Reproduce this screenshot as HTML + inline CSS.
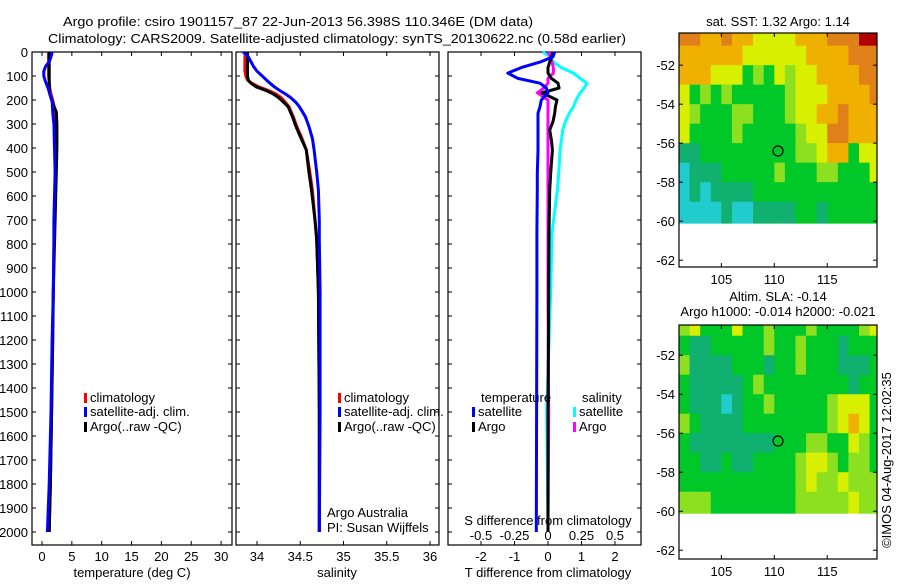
<!DOCTYPE html>
<html><head><meta charset="utf-8"><style>
body{margin:0;background:#fff;width:900px;height:580px;overflow:hidden}
svg text{font-family:"Liberation Sans",sans-serif;font-size:13px;fill:#000}
</style></head><body>
<svg id="s" width="900" height="580" xmlns="http://www.w3.org/2000/svg"></svg>
<script>
// ---- data ----
const tDepth=[0,20,40,60,80,100,125,150,175,200,250,300,400,500,600,700,800,1000,1200,1500,1800,2000];
const tArgo=[1.2,1.2,1.2,1.2,1.2,1.2,1.2,1.2,1.3,1.6,2.4,2.5,2.5,2.4,2.3,2.2,2.1,1.9,1.8,1.6,1.4,1.2];
const tClim=[1.1,1.1,1.1,1.1,1.1,1.1,1.2,1.3,1.5,1.8,2.2,2.3,2.3,2.3,2.2,2.1,2.0,1.9,1.8,1.6,1.4,1.2];
const tSat=[1.7,1.5,1.2,0.6,0.3,0.3,0.6,1.0,1.3,1.7,1.8,2.0,2.1,2.2,2.1,2.0,2.0,1.9,1.7,1.5,1.2,0.9];
const sDepth=[0,20,40,60,80,100,117,130,145,160,175,190,210,228,270,310,360,408,500,575,700,783,1000,1500,2000];
const sArgo=[33.89,33.89,33.89,33.89,33.89,33.89,33.90,33.93,33.99,34.10,34.19,34.25,34.31,34.36,34.41,34.45,34.51,34.57,34.60,34.63,34.67,34.69,34.71,34.72,34.72];
const sClim=[33.87,33.86,33.86,33.86,33.86,33.87,33.89,33.94,34.02,34.13,34.22,34.28,34.33,34.37,34.42,34.46,34.52,34.57,34.61,34.64,34.67,34.69,34.71,34.72,34.72];
const sSat=[33.84,33.90,33.93,33.96,34.00,34.06,34.11,34.15,34.20,34.26,34.33,34.39,34.45,34.49,34.56,34.60,34.64,34.66,34.69,34.71,34.72,34.72,34.73,34.73,34.72];
const dDepth=[0,20,42,65,88,110,130,150,170,200,228,255,290,325,367,408,505,575,754,1000,1500,2000];
const dTSat=[0.2,0.15,-0.24,-0.8,-1.2,-0.9,-0.24,-0.05,0.0,-0.2,-0.24,-0.3,-0.3,-0.3,-0.3,-0.3,-0.32,-0.32,-0.33,-0.33,-0.34,-0.35];
const dTArgo=[0.15,0.1,0.05,0.0,0.0,0.1,0.3,0.33,-0.18,0.27,0.22,0.2,0.15,0.05,0.1,0.13,0.08,0.05,0.03,0.02,0.0,0.0];
const dSSat=[-0.04,0.02,0.04,0.1,0.19,0.24,0.29,0.27,0.24,0.21,0.19,0.16,0.13,0.11,0.1,0.09,0.08,0.07,0.03,0.02,-0.01,0.0];
const dSArgo=[0.0,0.02,0.03,0.04,0.04,0.0,0.0,-0.03,-0.08,0.0,0.0,0.0,0.0,0.0,0.0,0.0,0.0,0.0,0.0,0.0,0.005,0.0];
const depthTicks=[0,100,200,300,400,500,600,700,800,900,1000,1100,1200,1300,1400,1500,1600,1700,1800,1900,2000];
const tempTicks=[0,5,10,15,20,25,30];
const salTicks=[34,34.5,35,35.5,36];
const tdTicks=[-2,-1,0,1,2];
const sdTicks=[-0.5,-0.25,0,0.25,0.5];
const latTicks=[-52,-54,-56,-58,-60,-62];
const lonTicks=[105,110,115];
const sstGrid=[
[8,8,7,7,8,7,7,6,6,6,6,7,7,7,8,8,8,9,9],
[7,7,7,7,7,7,6,6,6,6,6,6,7,7,7,7,8,8,8],
[7,7,7,6,6,6,4,5,4,6,5,6,6,7,7,7,7,8,8],
[6,4,5,4,5,4,4,4,4,4,5,6,6,6,7,7,7,7,8],
[6,5,4,4,4,5,5,4,4,4,5,6,6,7,7,8,7,7,7],
[6,4,4,4,4,5,4,4,4,4,4,5,6,6,8,8,7,7,7],
[3,3,4,4,4,4,4,4,4,4,4,5,5,6,7,7,4,6,6],
[2,3,3,3,4,4,4,4,4,5,4,4,4,5,5,4,4,4,6],
[2,3,2,3,3,3,3,4,4,4,4,4,4,4,4,4,4,4,4],
[2,2,2,2,3,2,2,3,3,3,3,4,4,3,4,4,4,4,4]];
const slaGrid=[
[5,6,4,4,4,6,4,4,5,4,4,4,5,4,4,4,4,5,6],
[4,3,3,4,4,4,4,4,5,4,4,5,4,4,4,3,4,4,4],
[5,3,3,3,3,4,4,4,3,4,4,5,4,4,4,3,3,3,4],
[4,3,3,3,3,3,4,5,4,4,4,4,4,4,4,4,3,4,4],
[4,3,3,3,2,3,4,4,5,4,4,4,4,4,5,6,6,6,4],
[5,4,3,3,3,3,4,4,4,4,4,4,4,4,5,6,7,6,4],
[4,3,3,3,3,3,3,3,3,4,4,4,5,5,4,4,6,5,4],
[4,4,3,3,4,3,3,4,4,4,4,5,6,6,5,4,5,5,4],
[4,4,4,4,4,4,4,4,4,4,4,5,6,5,5,6,5,5,5],
[5,5,5,4,4,4,4,4,4,4,4,5,5,5,5,5,6,5,5]];
const floatLon=110.35, floatLat=-56.4;
// ---- helpers ----
const S=document.getElementById('s'),NS='http://www.w3.org/2000/svg';
function el(t,a,p){const e=document.createElementNS(NS,t);for(const k in a)e.setAttribute(k,a[k]);(p||S).appendChild(e);return e;}
function txt(x,y,s,anchor,name,extra){const e=el('text',Object.assign({x:x,y:y,'text-anchor':anchor||'start'},extra||{}));e.textContent=s;


return e;}
const Y0=52,Y1=545;
const yD=d=>Y0+d*0.24;
function frame(x0,x1,y0,y1,name){const r=el('rect',{x:x0,y:y0,width:x1-x0,height:y1-y0,fill:'none',stroke:'#000','stroke-width':1.2});

}
function depthAxis(x0,x1,labels){
 depthTicks.forEach(d=>{const y=yD(d);el('line',{x1:x0,x2:x0+4,y1:y,y2:y,stroke:'#000'});el('line',{x1:x1-4,x2:x1,y1:y,y2:y,stroke:'#000'});
 if(labels)txt(28,y+5,String(d),'end','depth-tick-label');});}
function xTicks(ticks,f,x0,x1,yl,fmt,name){ticks.forEach(v=>{const x=f(v);el('line',{x1:x,x2:x,y1:Y0,y2:Y0+4,stroke:'#000'});el('line',{x1:x,x2:x,y1:Y1-4,y2:Y1,stroke:'#000'});
 if(yl)txt(x,yl,fmt?fmt(v):String(v),'middle',name);});}
function line(xs,ds,fx,col,name){const pts=xs.map((v,i)=>fx(v).toFixed(1)+','+yD(ds[i]).toFixed(1)).join(' ');
 const p=el('polyline',{points:pts,fill:'none',stroke:col,'stroke-width':3,'stroke-linejoin':'round'});
 
 }
function legend(x,y,col,label,name){el('rect',{x:x,y:y-9,width:3,height:10,fill:col});txt(x+6,y,label,'start',name);}
// titles
txt(298,26,'Argo profile: csiro 1901157_87 22-Jun-2013 56.398S 110.346E (DM data)','middle','title-line-1',{'font-size':'14',textLength:'470',lengthAdjust:'spacingAndGlyphs'});
txt(337,43,'Climatology: CARS2009. Satellite-adjusted climatology: synTS_20130622.nc (0.58d earlier)','middle','title-line-2',{'font-size':'14',textLength:'578',lengthAdjust:'spacingAndGlyphs'});
// panel 1 temperature
const fxT=v=>42+v*5.97;
frame(32,232,Y0,Y1,'temperature-panel');depthAxis(32,232,true);xTicks(tempTicks,fxT,32,232,561,null,'temperature-tick-label');
txt(132,577,'temperature (deg C)','middle','temperature-axis-title');
line(tClim,tDepth,fxT,'#f00','temp-climatology-line');
line(tArgo,tDepth,fxT,'#000','temp-argo-line');
line(tSat,tDepth,fxT,'#00f','temp-satellite-line');
legend(84,402,'#f00','climatology','legend-climatology');
legend(84,416,'#00f','satellite-adj. clim.','legend-satellite');
legend(84,431,'#000','Argo(..raw -QC)','legend-argo');
// panel 2 salinity
const fxS=v=>257+(v-34)*86.5;
frame(236,439,Y0,Y1,'salinity-panel');depthAxis(236,439,false);xTicks(salTicks,fxS,236,439,561,null,'salinity-tick-label');
txt(337,577,'salinity','middle','salinity-axis-title');
line(sClim,sDepth,fxS,'#f00','sal-climatology-line');
line(sArgo,sDepth,fxS,'#000','sal-argo-line');
line(sSat,sDepth,fxS,'#00f','sal-satellite-line');
legend(338,402,'#f00','climatology','legend-climatology-2');
legend(338,416,'#00f','satellite-adj. clim.','legend-satellite-2');
legend(338,431,'#000','Argo(..raw -QC)','legend-argo-2');
txt(327,517,'Argo Australia','start','argo-australia-label');
txt(327,532,'PI: Susan Wijffels','start','pi-label');
// panel 3 differences
const fxTD=v=>548+v*33.5, fxSD=v=>548+v*134;
frame(448,641,Y0,Y1,'difference-panel');depthAxis(448,641,false);xTicks(tdTicks,fxTD,448,641,561,null,'tdiff-tick-label');
sdTicks.forEach(v=>txt(fxSD(v),540,String(v),'middle','sdiff-tick-label'));
txt(548,525,'S difference from climatology','middle','sdiff-axis-title');
txt(548,577,'T difference from climatology','middle','tdiff-axis-title');
line(dSSat,dDepth,fxSD,'#0ff','sdiff-satellite-line');
line(dSArgo,dDepth,fxSD,'#f0f','sdiff-argo-line');
line(dTArgo,dDepth,fxTD,'#000','tdiff-argo-line');
line(dTSat,dDepth,fxTD,'#00f','tdiff-satellite-line');
txt(481,402,'temperature','start','legend-temperature-heading');
txt(582,402,'salinity','start','legend-salinity-heading');
legend(472,416,'#00f','satellite','legend-t-satellite');
legend(472,431,'#000','Argo','legend-t-argo');
legend(573,416,'#0ff','satellite','legend-s-satellite');
legend(573,431,'#f0f','Argo','legend-s-argo');
// maps
const cmap=['#0090ff','#10c8d0','#20cccc','#10b070','#00c828','#8ce020','#d8f000','#f0b000','#e08018','#b00000'];
function map(y0,latTop,grid,name){
 const x0=679,x1=877,y1=y0+234;
 const fx=l=>x0+(l-101)*(198/18.7), fy=l=>y0+(latTop-l)*19.5;
 const g=el('g',{});
 grid.forEach((row,r)=>row.forEach((v,c)=>{const la=-50-r, lo=101+c;
  const xa=Math.max(x0,fx(lo)), xb=Math.min(x1,fx(lo+1)), ya=Math.max(y0,fy(la)), yb=fy(la-1.1>-60.1?la-1:-60.1);
  el('rect',{x:xa,y:ya,width:xb-xa+0.5,height:yb-ya+0.5,fill:cmap[v]},g);}));
 frame(x0,x1,y0,y1,name+'-frame');
 latTicks.forEach(l=>{const y=fy(l);el('line',{x1:x0,x2:x0+4,y1:y,y2:y,stroke:'#000'});el('line',{x1:x1-4,x2:x1,y1:y,y2:y,stroke:'#000'});txt(675,y+5,String(l),'end','lat-tick-label');});
 lonTicks.forEach(l=>{const x=fx(l);el('line',{x1:x,x2:x,y1:y0,y2:y0+4,stroke:'#000'});el('line',{x1:x,x2:x,y1:y1-4,y2:y1,stroke:'#000'});txt(x,y1+17,String(l),'middle','lon-tick-label');});
 const c=el('circle',{cx:fx(floatLon),cy:fy(floatLat),r:5,fill:'none',stroke:'#000','stroke-width':1.2});
 
 
}
txt(778,26,'sat. SST: 1.32 Argo: 1.14','middle','sst-map-title');
map(33,-50.35,sstGrid,'sst-map');
txt(778,301,'Altim. SLA: -0.14','middle','sla-map-title');
txt(778,316,'Argo h1000: -0.014 h2000: -0.021','middle','sla-map-subtitle');
map(325,-50.45,slaGrid,'sla-map');
txt(0,0,'©IMOS 04-Aug-2017 12:02:35','middle','imos-timestamp',{transform:'translate(891,460) rotate(-90)'});
</script>
</body></html>
